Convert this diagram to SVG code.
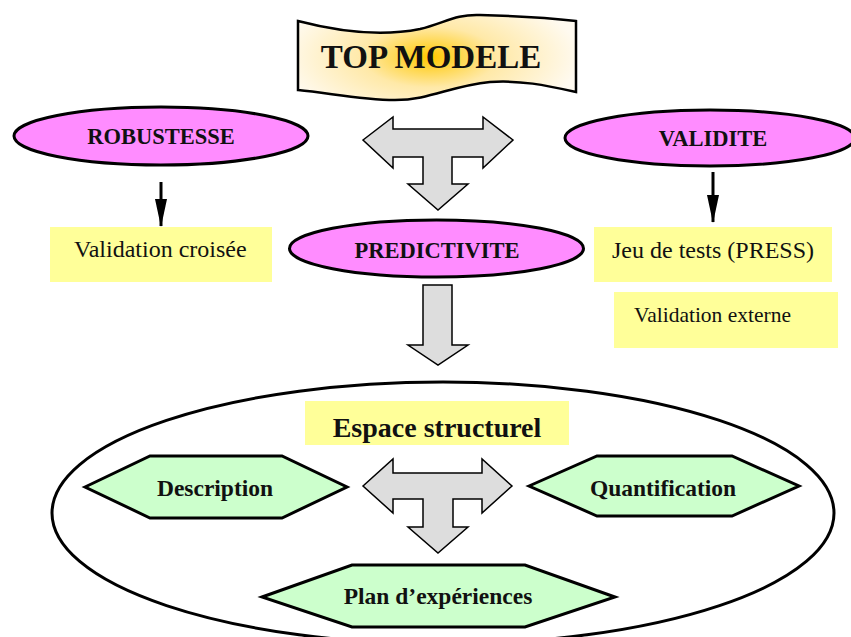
<svg xmlns="http://www.w3.org/2000/svg" width="851" height="637" viewBox="0 0 851 637">
<defs>
<radialGradient id="bannerGrad" gradientUnits="userSpaceOnUse" cx="430" cy="57" r="150" gradientTransform="translate(430 57) scale(1 0.45) translate(-430 -57)">
<stop offset="0" stop-color="#FFC800"/>
<stop offset="0.45" stop-color="#FFE9A8"/>
<stop offset="1" stop-color="#FFFAF0"/>
</radialGradient>
<marker id="ah" viewBox="0 0 28 12" markerWidth="28" markerHeight="12" refX="27" refY="6" orient="auto" markerUnits="userSpaceOnUse">
<path d="M0,0 L28,6 L0,12 Z" fill="#000"/>
</marker>
</defs>
<style>
.pink{fill:#FF8CFF;stroke:#000;stroke-width:3}
.box{fill:#FFFF99;stroke:none}
.hex{fill:#CCFFCC;stroke:#000;stroke-width:3;stroke-linejoin:miter}
.garrow{fill:#DDDDDD;stroke:#000;stroke-width:1.5;stroke-linejoin:miter}
.bt{font-family:"Liberation Serif","Times New Roman",serif;font-weight:bold;fill:#111;text-anchor:middle}
.rt{font-family:"Liberation Serif","Times New Roman",serif;fill:#111}
.conn{stroke:#000;stroke-width:3;fill:none}
</style>
<rect width="851" height="637" fill="#fff"/>

<g id="top-modele">
<path d="M298,21 C340,32 380,37 420,29 C445,23 455,14 480,15 C520,16 550,18 576,21 L576,92 C545,85 520,80 490,82 C450,86 430,100 395,100 C360,100 330,93 298,90 Z" fill="url(#bannerGrad)" stroke="#000" stroke-width="2.5"/>
<text class="bt" x="431" y="68" font-size="33">TOP MODELE</text>
</g>

<g id="robustesse">
<ellipse class="pink" cx="161" cy="136" rx="147" ry="29"/>
<text class="bt" x="161" y="144" font-size="22.5">ROBUSTESSE</text>
</g>

<g id="validite">
<ellipse class="pink" cx="710" cy="138" rx="145" ry="28"/>
<text class="bt" x="713" y="146" font-size="22.5">VALIDITE</text>
</g>

<g id="predictivite">
<ellipse class="pink" cx="436.5" cy="248.5" rx="147" ry="28.5"/>
<text class="bt" x="437" y="258" font-size="22.5">PREDICTIVITE</text>
</g>

<g id="validation-croisee">
<rect class="box" x="50" y="227" width="222" height="55"/>
<text class="rt" x="74" y="257" font-size="24">Validation croisée</text>
</g>

<g id="jeu-de-tests">
<rect class="box" x="594" y="227" width="238" height="55"/>
<text class="rt" x="612" y="258" font-size="24">Jeu de tests (PRESS)</text>
</g>

<g id="validation-externe">
<rect class="box" x="614" y="292" width="224" height="56"/>
<text class="rt" x="634" y="322" font-size="21.5">Validation externe</text>
</g>

<g id="espace-structurel">
<ellipse cx="443" cy="513" rx="391" ry="131" fill="none" stroke="#000" stroke-width="3"/>
<rect class="box" x="305" y="401" width="264" height="44"/>
<text class="bt" x="437" y="437" font-size="28">Espace structurel</text>
</g>

<g id="description">
<polygon class="hex" points="85,487 150,456 282,456 347,487 282,518 150,518"/>
<text class="bt" x="215" y="496" font-size="23.5">Description</text>
</g>

<g id="quantification">
<polygon class="hex" points="529,486 597,456 732,456 799,486 732,516 597,516"/>
<text class="bt" x="663" y="496" font-size="23.5">Quantification</text>
</g>

<g id="plan-experiences">
<polygon class="hex" points="262,597 352,565 525,565 615,597 525,627 352,627"/>
<text class="bt" x="438" y="604" font-size="23.5">Plan d’expériences</text>
</g>

<g id="connectors">
<line class="conn" x1="161" y1="182" x2="161" y2="226" marker-end="url(#ah)"/>
<line class="conn" x1="713" y1="172" x2="713" y2="222" marker-end="url(#ah)"/>
<polygon class="garrow" points="363,140 393,117 393,129 483,129 483,117 513,140 483,168 483,157 452,157 452,184 468,184 438,210 408,184 423,184 423,157 393,157 393,168"/>
<polygon class="garrow" points="423,285 452,285 452,345 468,345 438,365 408,345 423,345"/>
<polygon class="garrow" points="363,486 393,459 393,473 482,473 482,459 512,486 482,513 482,499 453,499 453,527 468,527 438,553 408,527 423,527 423,499 393,499 393,513"/>
</g>
</svg>
